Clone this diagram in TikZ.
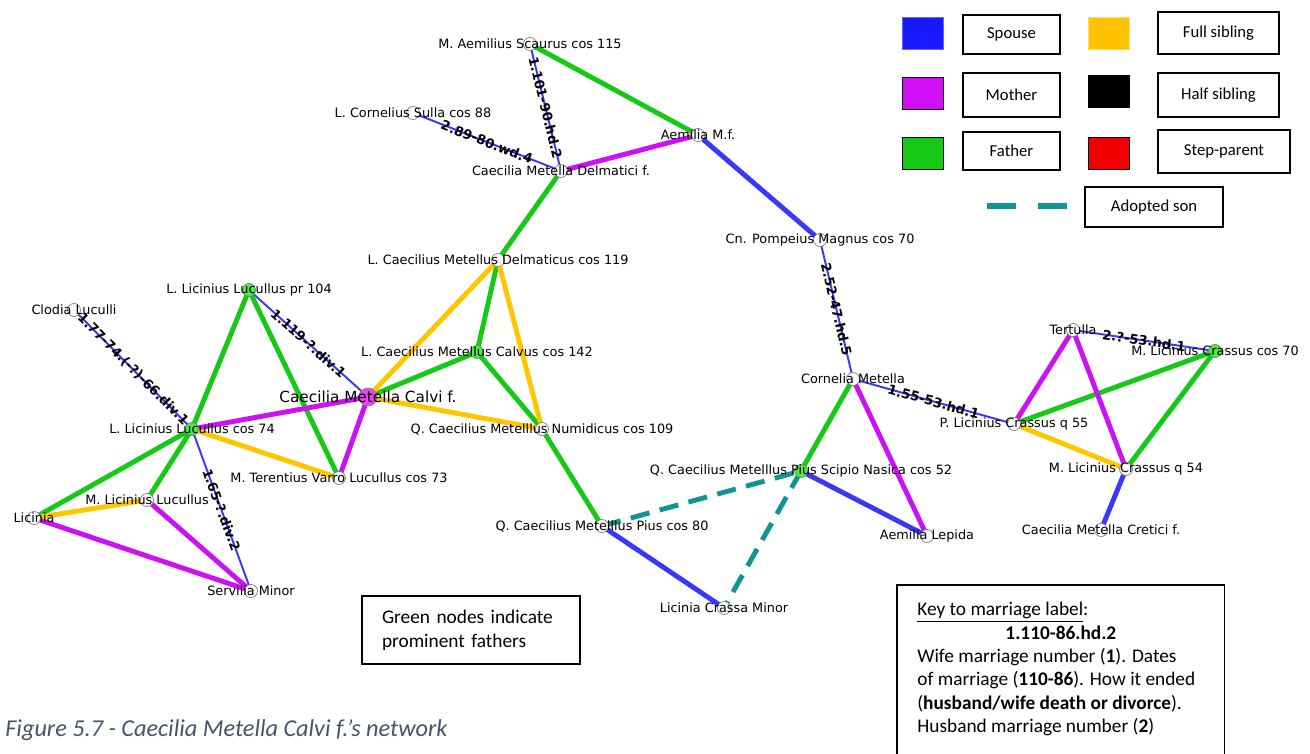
\documentclass[tikz,border=0pt]{standalone}
\usepackage{fontspec}
\setmainfont{DejaVu Sans}
\newfontfamily\calibri{Carlito}
\usetikzlibrary{backgrounds}
\definecolor{spblue}{HTML}{3838F8}
\definecolor{momcol}{HTML}{CC11F5}
\definecolor{dadcol}{HTML}{16C916}
\definecolor{sibcol}{HTML}{FFC600}
\definecolor{adoptcol}{HTML}{129494}
\definecolor{nodegreen}{HTML}{44EE44}
\definecolor{nodepink}{HTML}{EE44EE}
\definecolor{capcol}{HTML}{44546A}

\begin{document}
\begin{tikzpicture}[
  pers/.style={circle, draw=black!50, fill=white, line width=0.4pt, minimum size=0.26cm, inner sep=0pt},
  prom/.style={pers, fill=nodegreen},
  focus/.style={pers, fill=nodepink, minimum size=0.36cm},
  plbl/.style={font=\fontsize{7.3}{8.8}\selectfont, inner sep=0pt},
  biglbl/.style={font=\fontsize{8.7}{10}\selectfont, inner sep=0pt},
  elbl/.style={sloped, text=black, font=\bfseries\fontsize{7.5}{9}\selectfont, inner sep=0.5pt},
  spouse/.style={spblue, line width=1.1pt},
  wed/.style={spblue, line width=2.8pt},
  father/.style={dadcol, line width=2.8pt},
  mother/.style={momcol, line width=2.8pt},
  fullsib/.style={sibcol, line width=2.8pt},
  adopt/.style={adoptcol, line width=2.8pt, dash pattern=on 11pt off 6pt},
  swatch/.style={draw=black, line width=0.5pt, minimum width=0.82cm, minimum height=0.64cm, inner sep=0pt},
  keybox/.style={draw=black, line width=0.6pt, font=\calibri\fontsize{9.5}{11}\selectfont, inner sep=0pt},
]
  \useasboundingbox (0,0) rectangle (26.2,-15.08);

  % Metelli and Aemilii (top)
  \node[pers, label={[plbl]center:M. Aemilius Scaurus cos 115}] (scaurus) at (10.60,-0.88) {};
  \node[pers, label={[plbl]center:L. Cornelius Sulla cos 88}] (sulla) at (8.26,-2.26) {};
  \node[pers, label={[plbl]center:Aemilia M.f.}] (aemilia) at (13.96,-2.70) {};
  \node[pers, label={[plbl]center:Caecilia Metella Delmatici f.}] (delmf) at (11.22,-3.42) {};
  \node[pers, label={[plbl]center:L. Caecilius Metellus Delmaticus cos 119}] (delmaticus) at (9.96,-5.20) {};
  \node[prom, label={[plbl]center:L. Caecilius Metellus Calvus cos 142}] (calvus) at (9.54,-7.04) {};
  \node[focus, label={[biglbl]center:Caecilia Metella Calvi f.}] (calvif) at (7.36,-7.94) {};
  \node[pers, label={[plbl]center:Q. Caecilius Metelllus Numidicus cos 109}] (numidicus) at (10.84,-8.58) {};

  % Luculli (left)
  \node[pers, label={[plbl]center:Clodia Luculli}] (clodia) at (1.48,-6.20) {};
  \node[prom, label={[plbl]center:L. Licinius Lucullus pr 104}] (lucpr) at (4.98,-5.80) {};
  \node[prom, label={[plbl]center:L. Licinius Lucullus cos 74}] (luccos) at (3.84,-8.58) {};
  \node[pers, label={[plbl]center:M. Terentius Varro Lucullus cos 73}] (varro) at (6.78,-9.56) {};
  \node[pers, label={[plbl]center:M. Licinius Lucullus}] (mlucullus) at (2.94,-10.00) {};
  \node[pers, label={[plbl]center:Licinia}] (licinia) at (0.68,-10.36) {};
  \node[pers, label={[plbl]center:Servilia Minor}] (servilia) at (5.02,-11.82) {};

  % Pompeius and Metellus Pius (middle)
  \node[pers, label={[plbl]center:Cn. Pompeius Magnus cos 70}] (pompeius) at (16.40,-4.80) {};
  \node[pers, label={[plbl]center:Cornelia Metella}] (cornelia) at (17.06,-7.58) {};
  \node[pers, label={[plbl]center:Q. Caecilius Metelllus Pius cos 80}] (pius) at (12.04,-10.52) {};
  \node[prom, label={[plbl]center:Q. Caecilius Metelllus Pius Scipio Nasica cos 52}] (nasica) at (16.02,-9.42) {};
  \node[pers, label={[plbl]center:Licinia Crassa Minor}] (crassa) at (14.48,-12.16) {};
  \node[pers, label={[plbl]center:Aemilia Lepida}] (lepida) at (18.54,-10.72) {};

  % Crassi (right)
  \node[pers, label={[plbl]center:Tertulla}] (tertulla) at (21.46,-6.60) {};
  \node[prom, label={[plbl]center:M. Licinius Crassus cos 70}] (crassusc) at (24.30,-7.02) {};
  \node[pers, label={[plbl]center:P. Licinius Crassus q 55}] (pcrassus) at (20.28,-8.48) {};
  \node[pers, label={[plbl]center:M. Licinius Crassus q 54}] (crassusq) at (22.52,-9.38) {};
  \node[pers, label={[plbl]center:Caecilia Metella Cretici f.}] (cretici) at (22.02,-10.60) {};

  \begin{scope}[on background layer]
    % marriages with label
    \draw[spouse] (scaurus.center) -- node[elbl] (m1) {1.101-90.hd.2} (delmf.center);
    \draw[spouse] (sulla.center) -- node[elbl] (m2) {2.89-80.wd.4} (delmf.center);
    \draw[spouse] (lucpr.center) -- node[elbl] (m3) {1.119-?.div.1} (calvif.center);
    \draw[spouse] (clodia.center) -- node[elbl] (m4) {1.77-74.(-?)-66.div.1} (luccos.center);
    \draw[spouse] (luccos.center) -- node[elbl] (m5) {1.65-?.div.2} (servilia.center);
    \draw[spouse] (pompeius.center) -- node[elbl] (m6) {2.52-47.hd.5} (cornelia.center);
    \draw[spouse] (cornelia.center) -- node[elbl] (m7) {1.55-53.hd.1} (pcrassus.center);
    \draw[spouse] (tertulla.center) -- node[elbl] (m8) {2.?-53.hd.1} (crassusc.center);

    % marriages, no label
    \draw[wed] (aemilia.center) -- (pompeius.center);
    \draw[wed] (pius.center) -- (crassa.center);
    \draw[wed] (nasica.center) -- (lepida.center);
    \draw[wed] (crassusq.center) -- (cretici.center);

    % fathers
    \draw[father] (scaurus.center) -- (aemilia.center);
    \draw[father] (delmf.center) -- (delmaticus.center);
    \draw[father] (delmaticus.center) -- (calvus.center);
    \draw[father] (calvus.center) -- (calvif.center);
    \draw[father] (calvus.center) -- (numidicus.center);
    \draw[father] (numidicus.center) -- (pius.center);
    \draw[father] (lucpr.center) -- (luccos.center);
    \draw[father] (lucpr.center) -- (varro.center);
    \draw[father] (luccos.center) -- (licinia.center);
    \draw[father] (luccos.center) -- (mlucullus.center);
    \draw[father] (nasica.center) -- (cornelia.center);
    \draw[father] (pcrassus.center) -- (crassusc.center);
    \draw[father] (crassusc.center) -- (crassusq.center);

    % mothers
    \draw[mother] (delmf.center) -- (aemilia.center);
    \draw[mother] (calvif.center) -- (luccos.center);
    \draw[mother] (calvif.center) -- (varro.center);
    \draw[mother] (licinia.center) -- (servilia.center);
    \draw[mother] (mlucullus.center) -- (servilia.center);
    \draw[mother] (cornelia.center) -- (lepida.center);
    \draw[mother] (tertulla.center) -- (pcrassus.center);
    \draw[mother] (tertulla.center) -- (crassusq.center);

    % full siblings
    \draw[fullsib] (calvif.center) -- (delmaticus.center);
    \draw[fullsib] (calvif.center) -- (numidicus.center);
    \draw[fullsib] (delmaticus.center) -- (numidicus.center);
    \draw[fullsib] (luccos.center) -- (varro.center);
    \draw[fullsib] (licinia.center) -- (mlucullus.center);
    \draw[fullsib] (pcrassus.center) -- (crassusq.center);

    % adoption
    \draw[adopt] (pius.center) -- (nasica.center);
    \draw[adopt] (nasica.center) -- (crassa.center);
  \end{scope}

  % legend
  \node[swatch, draw=blue!60, fill=blue!90!white] (swspouse) at (18.45,-0.66) {};
  \node[swatch, fill=momcol!90!magenta] (swmother) at (18.45,-1.86) {};
  \node[swatch, fill=dadcol] (swfather) at (18.45,-3.07) {};
  \node[swatch, draw=sibcol!60, fill=sibcol!95!orange] (swfull) at (22.18,-0.66) {};
  \node[swatch, fill=black] (swhalf) at (22.18,-1.83) {};
  \node[swatch, fill=red!95!black] (swstep) at (22.18,-3.07) {};
  \node[keybox, minimum width=1.94cm, minimum height=0.78cm] (kspouse) at (20.23,-0.69) {Spouse};
  \node[keybox, minimum width=1.94cm, minimum height=0.88cm] (kmother) at (20.23,-1.90) {Mother};
  \node[keybox, minimum width=1.94cm, minimum height=0.76cm] (kfather) at (20.23,-3.02) {Father};
  \node[keybox, minimum width=2.42cm, minimum height=0.84cm] (kfull) at (24.37,-0.66) {Full sibling};
  \node[keybox, minimum width=2.42cm, minimum height=0.88cm] (khalf) at (24.37,-1.90) {Half sibling};
  \node[keybox, minimum width=2.64cm, minimum height=0.86cm] (kstep) at (24.48,-3.03) {Step-parent};
  \node[keybox, minimum width=2.76cm, minimum height=0.80cm] (kadopt) at (23.08,-4.14) {Adopted son};
  \draw[adoptcol, line width=0.12cm, dash pattern=on 0.58cm off 0.44cm] (19.74,-4.12) -- (21.34,-4.12);

  % notes
  \node[draw=black, line width=0.6pt, minimum width=4.36cm, minimum height=1.36cm, text width=3.56cm, align=left,
        font=\calibri\fontsize{11}{13.6}\selectfont] (greennote) at (9.42,-12.60) {Green nodes indicate\\prominent fathers};
  \node[anchor=north west, align=left, inner xsep=0.4cm, inner ysep=0.34cm,
        font=\calibri\fontsize{11}{13.3}\selectfont] (key) at (17.94,-11.70)
    {\underline{Key to marriage label}:\\
     \makebox[5.74cm]{\bfseries 1.110-86.hd.2}\\
     Wife marriage number (\textbf{1}). Dates\\
     of marriage (\textbf{110-86}). How it ended\\
     (\textbf{husband/wife death or divorce}).\\
     Husband marriage number (\textbf{2})};
  \draw[line width=0.6pt] (key.north west) rectangle (key.north east |- 0,-15.4);

  % caption
  \node[anchor=base west, inner sep=0pt, text=capcol, font=\calibri\itshape\fontsize{13.8}{16}\selectfont]
    (caption) at (0.10,-14.74) {Figure 5.7 - Caecilia Metella Calvi f.’s network};
\end{tikzpicture}
\end{document}
